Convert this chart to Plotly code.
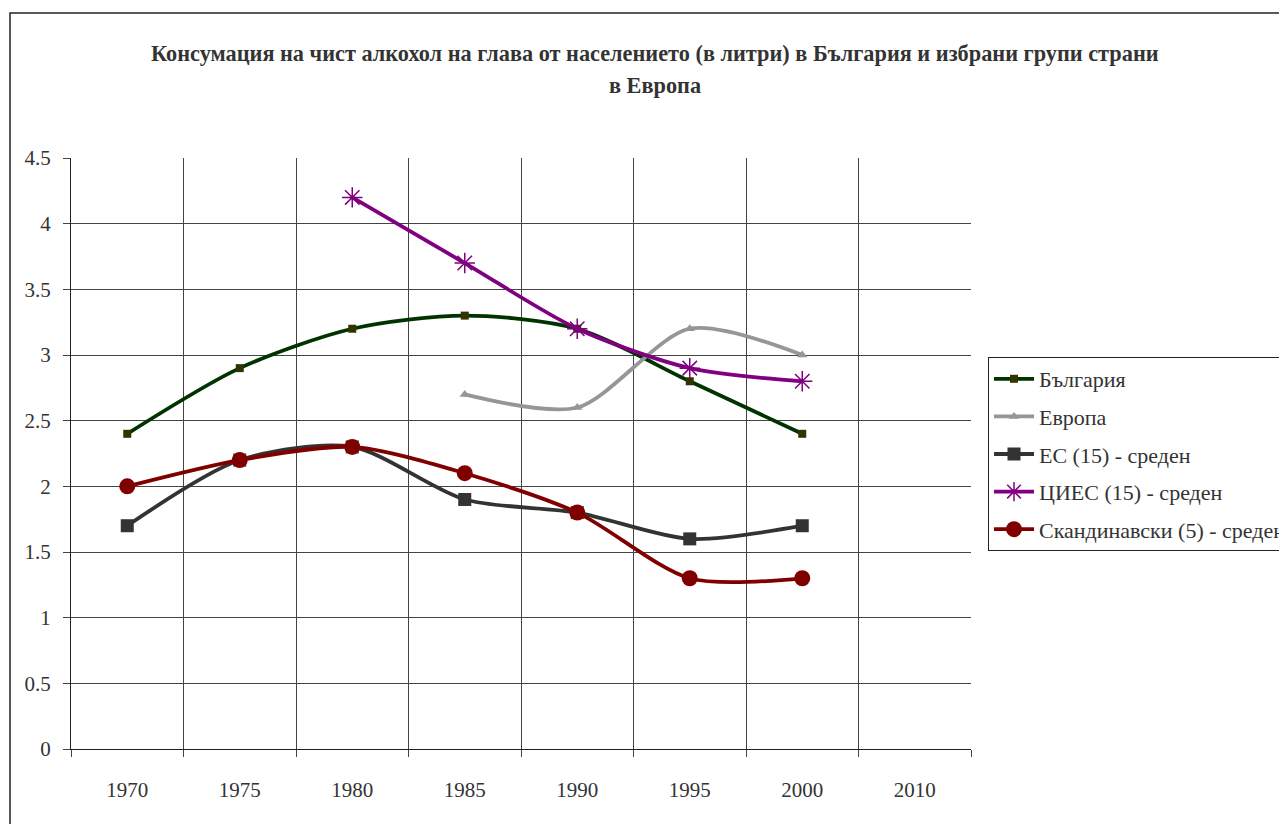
import plotly.graph_objects as go

years = ["1970", "1975", "1980", "1985", "1990", "1995", "2000", "2010"]
bulgaria = [2.4, 2.9, 3.2, 3.3, 3.2, 2.8, 2.4, None]
europe = [None, None, None, 2.7, 2.6, 3.2, 3.0, None]
eu15 = [1.7, 2.2, 2.3, 1.9, 1.8, 1.6, 1.7, None]
cees15 = [None, None, 4.2, 3.7, 3.2, 2.9, 2.8, None]
scand5 = [2.0, 2.2, 2.3, 2.1, 1.8, 1.3, 1.3, None]

names = ["България", "Европа", "ЕС (15) - среден", "ЦИЕС (15) - среден", "Скандинавски (5) - среден"]
title_lines = ["Консумация на чист алкохол на глава от населението (в литри) в България и избрани групи страни",
               "в Европа"]

FONT = "Liberation Serif"
OFF = 8  # page body margin

fig = go.Figure()

def add(i, name, y, lcolor, symbol, msize, mcolor, mline_width=0):
    fig.add_trace(go.Scatter(
        x=years, y=y, name=name, mode="lines+markers", legendgroup=f"g{i}",
        line=dict(color=lcolor, width=3.8, shape="spline", smoothing=0.8),
        marker=dict(symbol=symbol, size=msize, color=mcolor,
                    line=dict(color=mcolor, width=mline_width)),
        connectgaps=False,
    ))

add(0, names[0], bulgaria, "#003300", "square", 8, "#333300")
add(1, names[1], europe, "#969696", "triangle-up", 9, "#969696")
add(2, names[2], eu15, "#333333", "square", 13, "#333333")
add(3, names[3], cees15, "#800080", "asterisk-open", 17, "#800080", 1.5)
add(4, names[4], scand5, "#800000", "circle", 16, "#800000")

L, R, T, B = 71 - OFF, 971 - OFF, 158 - OFF, 749 - OFF
W, H = 1287, 824
pw, ph = R - L, B - T

def px_x(x):
    return (x - 71) / pw

def px_y(y):
    return (749 - y) / ph

fig.add_shape(type="rect", xref="paper", yref="paper",
              x0=px_x(10), x1=1.6, y0=-0.3, y1=px_y(13),
              line=dict(color="#222222", width=1.5), layer="below")

for txt, yc in zip(title_lines, [53, 85]):
    fig.add_annotation(text=f"<b>{txt}</b>", xref="paper", yref="paper",
                       x=px_x(655), y=px_y(yc), xanchor="center", yanchor="middle",
                       showarrow=False,
                       font=dict(family=FONT, size=22.3, color="#333333"))

fig.update_layout(
    width=W, height=H,
    margin=dict(l=L, r=W - R, t=T, b=H - B, autoexpand=False),
    paper_bgcolor="white", plot_bgcolor="white",
    font=dict(family=FONT, size=21, color="#333333"),
    xaxis=dict(
        type="category", categoryorder="array", categoryarray=years,
        range=[-0.5, 7.5], tickson="boundaries",
        showgrid=True, gridcolor="#444444", gridwidth=1,
        ticks="outside", ticklen=7, tickcolor="#444444",
        showline=True, linecolor="#222222", linewidth=1,
        tickfont=dict(family=FONT, size=21, color="#333333"),
        ticklabelstandoff=22,
        zeroline=False,
    ),
    yaxis=dict(
        range=[0, 4.5], dtick=0.5,
        showgrid=True, gridcolor="#444444", gridwidth=1,
        ticks="outside", ticklen=7, tickcolor="#444444",
        showline=True, linecolor="#222222", linewidth=1,
        tickfont=dict(family=FONT, size=21, color="#333333"),
        ticklabelstandoff=8,
        zeroline=False,
    ),
    legend=dict(
        x=px_x(988), xanchor="left", y=px_y(357), yanchor="top",
        bordercolor="#222222", borderwidth=1, bgcolor="white",
        font=dict(family=FONT, size=22, color="#333333"),
        tracegroupgap=6, itemwidth=40,
    ),
    showlegend=True,
)

fig.write_html("out.html")
